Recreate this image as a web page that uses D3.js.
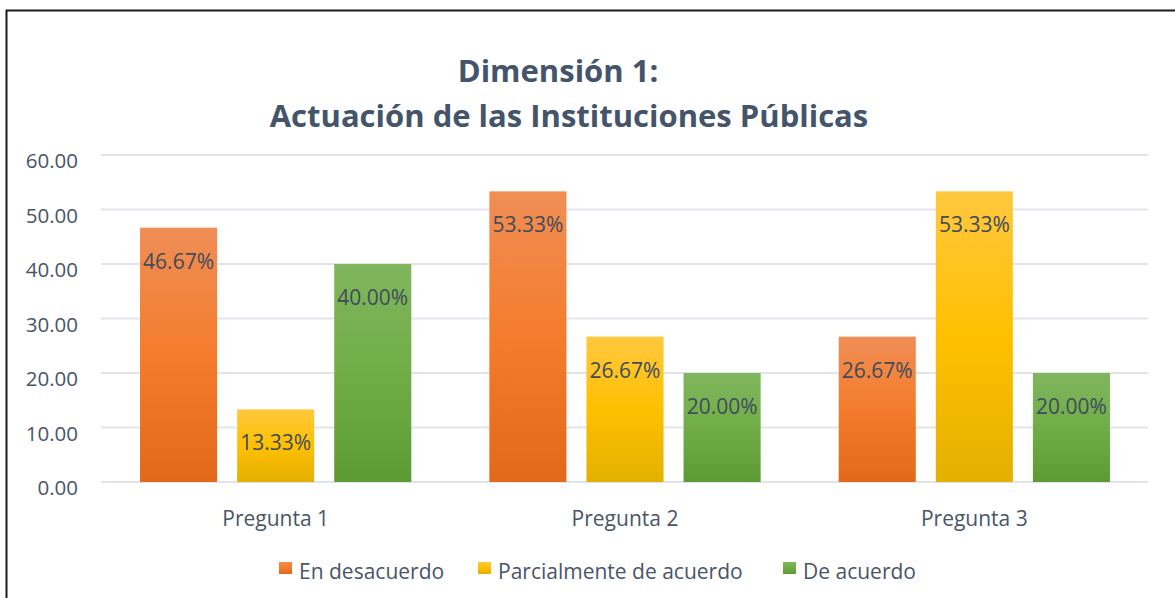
<!DOCTYPE html>
<html><head><meta charset="utf-8">
<script src="https://cdn.jsdelivr.net/npm/d3@7"></script>
<style>html,body{margin:0;padding:0;background:#fff;}svg{display:block;font-family:"Open Sans",sans-serif;}</style>
</head><body>
<svg id="c" width="1175" height="598"></svg>
<script>
const categories = ["Pregunta 1", "Pregunta 2", "Pregunta 3"];
const seriesNames = ["En desacuerdo", "Parcialmente de acuerdo", "De acuerdo"];
const enDesacuerdo = [46.67, 53.33, 26.67];
const parcialmente = [13.33, 26.67, 53.33];
const deAcuerdo = [40.00, 20.00, 20.00];
const yTicks = [0, 10, 20, 30, 40, 50, 60];
const titleLines = ["Dimensión 1:", "Actuación de las Instituciones Públicas"];

const seriesValues = [enDesacuerdo, parcialmente, deAcuerdo];
const colors = [
  {top:"#F08E55", mid:"#F47C2C", bot:"#E2681A"},
  {top:"#FFC83F", mid:"#FFC000", bot:"#E3B000"},
  {top:"#80B65E", mid:"#70AD47", bot:"#5C9B33"}
];
const FONT = "'Open Sans',sans-serif";

const svg = d3.select("#c");
const defs = svg.append("defs");
colors.forEach((c,i)=>{
  const g = defs.append("linearGradient").attr("id","g"+i).attr("x1",0).attr("y1",0).attr("x2",0).attr("y2",1);
  g.append("stop").attr("offset","0%").attr("stop-color",c.top);
  g.append("stop").attr("offset","50%").attr("stop-color",c.mid);
  g.append("stop").attr("offset","100%").attr("stop-color",c.bot);
});

// frame
svg.append("line").attr("x1",6).attr("x2",1175).attr("y1",10.5).attr("y2",10.5).attr("stroke","#1a1a1a").attr("stroke-width",2);
svg.append("line").attr("x1",6.5).attr("x2",6.5).attr("y1",10).attr("y2",598).attr("stroke","#1a1a1a").attr("stroke-width",2);

const textColor = "#44546A";
// title
svg.append("text").attr("x",558).attr("y",82).attr("text-anchor","middle")
  .attr("font-size",31).attr("font-weight","bold").attr("fill",textColor).text(titleLines[0]);
svg.append("text").attr("x",569).attr("y",127).attr("text-anchor","middle")
  .attr("font-size",31).attr("font-weight","bold").attr("fill",textColor).text(titleLines[1]);

const y = d3.scaleLinear().domain([0,60]).range([482,155]);
const x = d3.scaleBand().domain(categories).range([101,1149]);
const xs = d3.scaleBand().domain(seriesNames).range([0,x.bandwidth()]).paddingInner(20/97).paddingOuter(0.402);

// gridlines
svg.append("g").selectAll("line").data(yTicks).join("line")
  .attr("x1",101).attr("x2",1148).attr("y1",d=>y(d)).attr("y2",d=>y(d))
  .attr("stroke","#E1E5EB").attr("stroke-width",2);

// y axis labels
const yAxis = d3.axisLeft(y).tickValues(yTicks).tickFormat(d3.format(".2f")).tickSize(0).tickPadding(0);
const ya = svg.append("g").attr("transform","translate(78,0)").call(yAxis);
ya.select(".domain").remove();
ya.selectAll("text").attr("font-size",20.5).attr("fill","#4A5568").attr("font-family",FONT).attr("y",12.5).attr("dy",null);

// x axis labels
const xAxis = d3.axisBottom(x).tickSize(0).tickPadding(0);
const xa = svg.append("g").attr("transform","translate(0,526)").call(xAxis);
xa.select(".domain").remove();
xa.selectAll("text").attr("font-size",21).attr("fill","#4A5568").attr("font-family",FONT).attr("y",0).attr("dy",null);

// bars
const data = [];
categories.forEach((c,ci)=>seriesNames.forEach((s,si)=>data.push({c,s,si,v:seriesValues[si][ci]})));
svg.append("g").selectAll("rect").data(data).join("rect")
  .attr("x",d=>x(d.c)+xs(d.s)).attr("width",xs.bandwidth())
  .attr("y",d=>y(d.v)).attr("height",d=>y(0)-y(d.v))
  .attr("fill",d=>"url(#g"+d.si+")");

// labels
svg.append("g").selectAll("text").data(data).join("text")
  .attr("x",d=>x(d.c)+xs(d.s)+xs.bandwidth()/2).attr("y",d=>y(d.v)+41)
  .attr("text-anchor","middle").attr("font-size",21).attr("fill","#404B5C")
  .text(d=>d.v.toFixed(2)+"%");

// legend
const legX = [279, 478, 783];
const lg = svg.append("g").selectAll("g").data(seriesNames).join("g")
  .attr("transform",(d,i)=>`translate(${legX[i]},0)`);
lg.append("rect").attr("x",0).attr("y",562).attr("width",13).attr("height",12).attr("fill",(d,i)=>"url(#g"+i+")");
lg.append("text").attr("x",20).attr("y",579).attr("font-size",21).attr("fill","#4A5568").text(d=>d);
</script>
</body></html>
